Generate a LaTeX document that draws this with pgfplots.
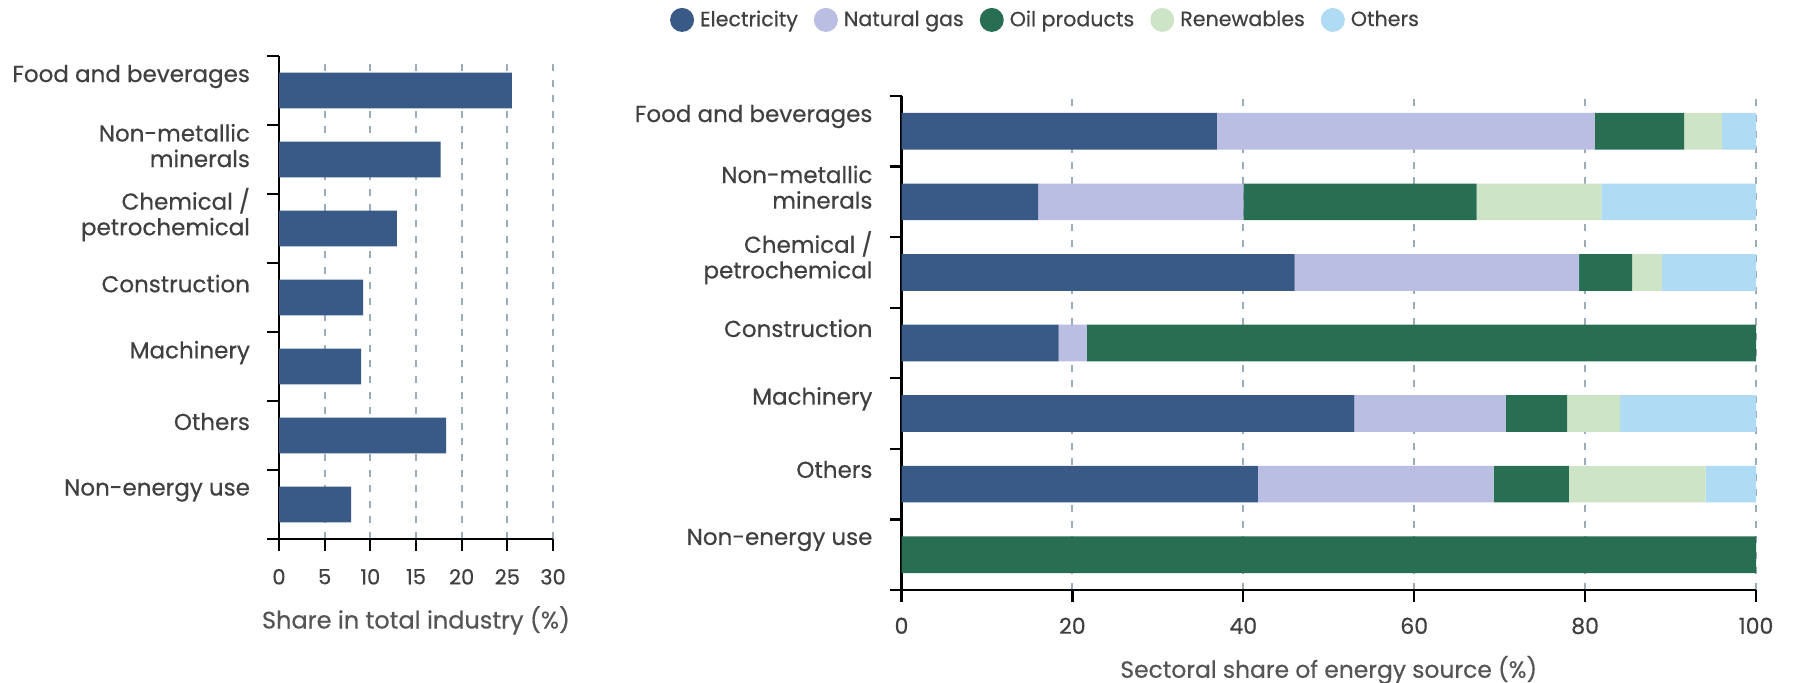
\documentclass[border=0pt]{standalone}
\usepackage{fontspec}
\setmainfont{Poppins}[FakeBold=0.5]
\usepackage{pgfplots}
\usepackage{pgfplotstable}
\pgfplotsset{compat=1.18}

\definecolor{elec}{HTML}{395A87}
\definecolor{gas}{HTML}{BBBEE3}
\definecolor{oil}{HTML}{276E52}
\definecolor{renew}{HTML}{CEE4C6}
\definecolor{other}{HTML}{B0DBF4}
\definecolor{gridc}{HTML}{9AADBA}
\definecolor{txt}{HTML}{404040}
\definecolor{ttl}{HTML}{555555}

% sector index: 0 = Non-energy use (bottom) ... 6 = Food and beverages (top)
\pgfplotstableread{
idx share
0 7.9
1 18.3
2 9.0
3 9.2
4 12.9
5 17.7
6 25.5
}\sharetable

\pgfplotstableread{
idx elec gas oil renew other
0 0    0    100  0    0
1 41.7 27.6 8.8  16.0 5.9
2 53.0 17.7 7.2  6.2  15.9
3 18.4 3.3  78.3 0    0
4 46.0 33.3 6.2  3.5  11.0
5 16.0 24.0 27.3 14.6 18.1
6 36.9 44.2 10.5 4.4  4.0
}\sourcetable

\pgfplotsset{
  panel/.style={
    scale only axis,
    anchor=south west,
    ymin=-0.5, ymax=6.5,
    axis x line=bottom, axis y line=left,
    axis line style={-, line width=1.1pt, black},
    tick align=outside,
    major tick length=6pt,
    tick style={black, line width=1.1pt},
    ytick={-0.5,0.5,...,6.5},
    yticklabels={{},Non-energy use,Others,Machinery,Construction,{Chemical /\\petrochemical},{Non-metallic\\minerals},Food and beverages},
    yticklabel style={font=\fontsize{11.5}{12.8}\selectfont, text=txt, align=right, anchor=east, xshift=-5pt, yshift=-10.3pt},
    /pgf/number format/assume math mode=true,
    xmajorgrids,
    major grid style={gridc, line width=1pt, dash pattern=on 3.5pt off 4.3pt},
    xlabel style={text=ttl, at={(axis description cs:0.5,0)}, anchor=center},
    bar width=0.52,
  },
}

\begin{document}
\begin{tikzpicture}[x=1pt,y=1pt]
\useasboundingbox (0,0) rectangle (899.5,341.5);

% share of each sector in total industry
\begin{axis}[panel,
  at={(139.5pt,72pt)}, width=137pt, height=241.5pt,
  xmin=0, xmax=30, xtick={0,5,...,30},
  xticklabel style={font=\fontsize{10.5}{12}\selectfont, text=txt, yshift=-5.5pt},
  xlabel={Share in total industry (\%)},
  xlabel style={font=\fontsize{12}{14}\selectfont, yshift=-40.7pt},
  xbar,
]
\addplot[fill=elec, draw=none] table[x=share, y=idx] {\sharetable};
\end{axis}

% energy source mix of each sector
\begin{axis}[panel,
  at={(450.75pt,46.5pt)}, width=427.25pt, height=247pt,
  xmin=0, xmax=100, xtick={0,20,...,100},
  xticklabel style={font=\fontsize{11}{12}\selectfont, text=txt, yshift=-4.3pt},
  xlabel={Sectoral share of energy source (\%)},
  xlabel style={font=\fontsize{11.7}{14}\selectfont, yshift=-40pt},
  xbar stacked,
  legend columns=5,
  legend style={draw=none, fill=none, font=\fontsize{10.3}{12}\selectfont, text=txt,
    at={(axis description cs:0.1697,1.154)}, anchor=center,
    /tikz/every even column/.append style={column sep=6pt}},
  legend image code/.code={\fill[#1] (0pt,0pt) circle (6pt); \path (7pt,0pt);},
]
\addplot[fill=elec, draw=none] table[x=elec, y=idx] {\sourcetable};
\addplot[fill=gas, draw=none] table[x=gas, y=idx] {\sourcetable};
\addplot[fill=oil, draw=none] table[x=oil, y=idx] {\sourcetable};
\addplot[fill=renew, draw=none] table[x=renew, y=idx] {\sourcetable};
\addplot[fill=other, draw=none] table[x=other, y=idx] {\sourcetable};
\legend{Electricity, Natural gas, Oil products, Renewables, Others}
\end{axis}
\end{tikzpicture}
\end{document}
